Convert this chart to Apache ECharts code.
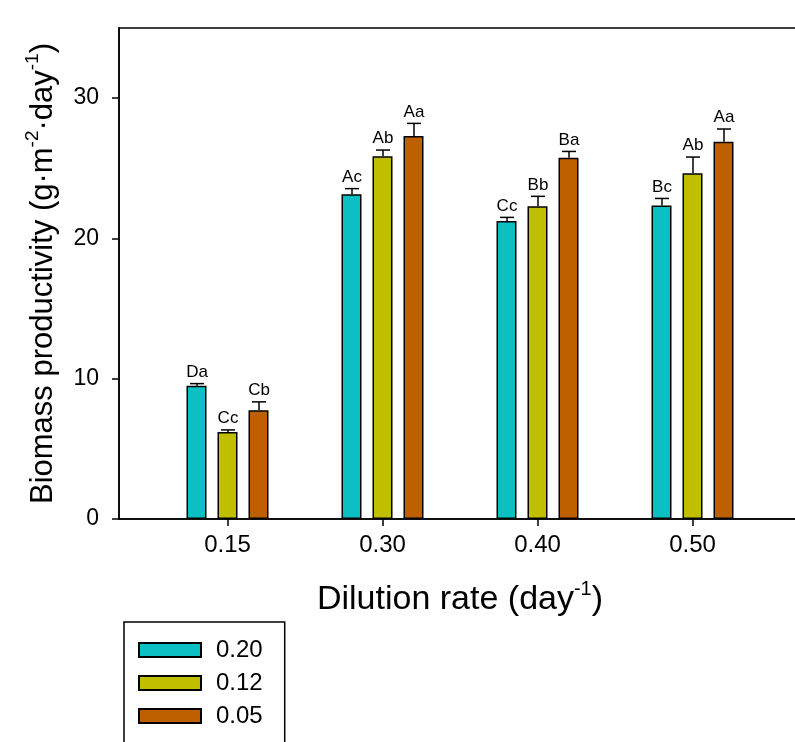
<!DOCTYPE html>
<html>
<head>
<meta charset="utf-8">
<script src="https://cdn.jsdelivr.net/npm/echarts@6/dist/echarts.min.js"></script>
<style>
  html, body { margin: 0; padding: 0; background: #fff; overflow: hidden; }
  #chart { width: 801px; height: 742px; }
</style>
</head>
<body>
<div id="chart"></div>
<script>
// dilution rate groups (x axis)
const categories = ['0.15', '0.30', '0.40', '0.50']
// legend names
const seriesNames = ['0.20', '0.12', '0.05']

// bar heights, g·m-2·day-1
const tealValues = [9.5, 23.15, 21.25, 22.35]
const yellowValues = [6.2, 25.85, 22.3, 24.65]
const orangeValues = [7.75, 27.3, 25.75, 26.9]

// upper error bars
const tealErr = [0.15, 0.4, 0.25, 0.5]
const yellowErr = [0.15, 0.45, 0.7, 1.15]
const orangeErr = [0.6, 0.9, 0.45, 0.9]

// significance letters
const tealLetters = ['Da', 'Ac', 'Cc', 'Bc']
const yellowLetters = ['Cc', 'Ab', 'Bb', 'Ab']
const orangeLetters = ['Cb', 'Aa', 'Ba', 'Aa']

const yTicks = [0, 10, 20, 30]

const colors = ['#0bbfc3', '#bfbf00', '#bf6000']
const font = 'Liberation Sans, Arial, sans-serif'
const barWidth = 20
const barGapPx = 11

const groups = [
  { values: tealValues, err: tealErr, letters: tealLetters },
  { values: yellowValues, err: yellowErr, letters: yellowLetters },
  { values: orangeValues, err: orangeErr, letters: orangeLetters }
]

const xPos = categories.map((c, i) => i + 1)

const barSeries = groups.map((g, k) => ({
  name: seriesNames[k],
  type: 'bar',
  barWidth: barWidth,
  barGap: (barGapPx / barWidth * 100) + '%',
  data: g.values.map((v, i) => [xPos[i], v]),
  itemStyle: { color: colors[k], borderColor: '#000', borderWidth: 1.5 },
  z: 2
}))

const errSeries = groups.map((g, k) => ({
  type: 'custom',
  z: 5,
  silent: true,
  data: g.values.map((v, i) => [xPos[i], v, g.err[i]]),
  renderItem: function (params, api) {
    const offset = (k - 1) * (barWidth + barGapPx)
    const base = api.coord([api.value(0), api.value(1)])
    const top = api.coord([api.value(0), api.value(1) + api.value(2)])
    const x = Math.round(base[0] + offset)
    const style = { stroke: '#000', lineWidth: 1.5 }
    return {
      type: 'group',
      children: [
        { type: 'line', shape: { x1: x, y1: base[1], x2: x, y2: top[1] }, style: style },
        { type: 'line', shape: { x1: x - 7, y1: top[1], x2: x + 7, y2: top[1] }, style: style },
        {
          type: 'text',
          style: {
            x: x, y: top[1] - 3,
            text: g.letters[params.dataIndex],
            align: 'center', verticalAlign: 'bottom',
            font: '17px ' + font, fill: '#000'
          }
        }
      ]
    }
  }
}))

const chart = echarts.init(document.getElementById('chart'))
chart.setOption({
  animation: false,
  backgroundColor: '#fff',
  textStyle: { fontFamily: font, color: '#000' },
  grid: {
    left: 119, right: 0, top: 28, bottom: 223,
    show: true, borderColor: '#000', borderWidth: 1.5, backgroundColor: 'transparent'
  },
  legend: {
    data: seriesNames,
    orient: 'vertical',
    left: 124, top: 622,
    height: 300,
    itemWidth: 62, itemHeight: 14, itemGap: 9,
    padding: [16, 22, 40, 14],
    borderColor: '#000', borderWidth: 1.5,
    backgroundColor: '#fff',
    icon: 'rect',
    textStyle: { fontSize: 24, fontFamily: font, color: '#000', padding: [0, 0, 0, 10] }
  },
  xAxis: {
    type: 'value',
    min: 0.3, max: 4.7,
    name: '{t|Dilution rate (day}{s|-1}{t|)}',
    nameLocation: 'middle',
    nameGap: 60,
    nameTextStyle: {
      rich: {
        t: { fontSize: 34, fontFamily: font, color: '#000', lineHeight: 38, verticalAlign: 'bottom' },
        s: { fontSize: 20, fontFamily: font, color: '#000', lineHeight: 38, verticalAlign: 'top' }
      }
    },
    axisLine: { lineStyle: { color: '#000', width: 1.5 } },
    axisTick: { customValues: xPos, length: 7, lineStyle: { color: '#000', width: 1.5 } },
    axisLabel: {
      customValues: xPos, margin: 14, fontSize: 24, color: '#000',
      formatter: v => categories[Math.round(v) - 1]
    },
    splitLine: { show: false }
  },
  yAxis: {
    type: 'value',
    min: 0, max: 35,
    name: '{t|Biomass productivity (g·m}{s|-2}{t|·day}{s|-1}{t|)}',
    nameLocation: 'middle',
    nameRotate: 90,
    nameGap: 60,
    nameTextStyle: {
      rich: {
        t: { fontSize: 31, fontFamily: font, color: '#000', lineHeight: 36, verticalAlign: 'bottom' },
        s: { fontSize: 19, fontFamily: font, color: '#000', lineHeight: 36, verticalAlign: 'top' }
      }
    },
    axisLine: { show: true, lineStyle: { color: '#000', width: 1.5 } },
    axisTick: { show: true, customValues: yTicks, length: 7, lineStyle: { color: '#000', width: 1.5 } },
    axisLabel: { customValues: yTicks, margin: 20, fontSize: 23, color: '#000' },
    splitLine: { show: false }
  },
  series: barSeries.concat(errSeries)
})
</script>
</body>
</html>
